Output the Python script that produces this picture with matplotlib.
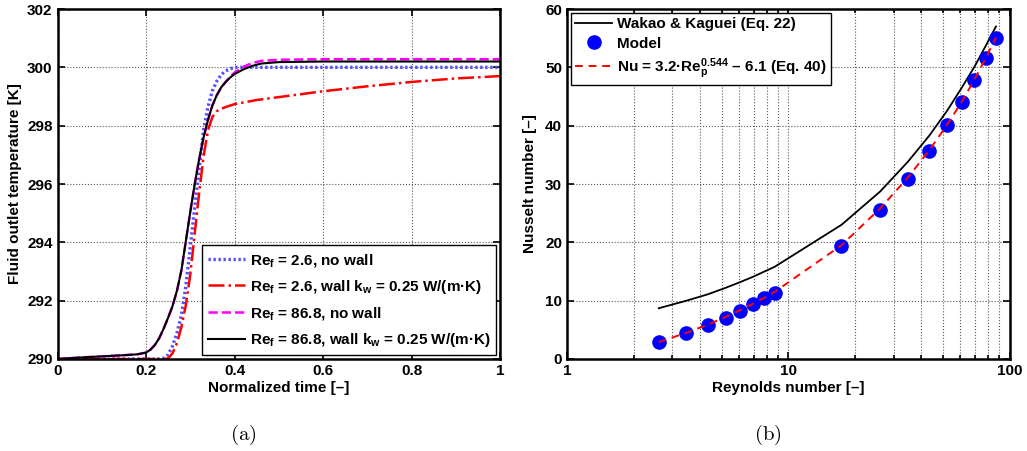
import numpy as np
import matplotlib.pyplot as plt
from matplotlib.ticker import FixedLocator, NullFormatter

FONT = 'Liberation Sans'
plt.rcParams['font.family'] = [FONT, 'DejaVu Sans']
plt.rcParams['font.weight'] = 'bold'
plt.rcParams['mathtext.fontset'] = 'custom'
plt.rcParams['mathtext.rm'] = FONT + ':bold'
plt.rcParams['mathtext.it'] = FONT + ':bold'
plt.rcParams['mathtext.bf'] = FONT + ':bold'

# (a) outlet temperature vs normalized time
t_blue = [0, 0.23, 0.24, 0.25, 0.26, 0.27, 0.28, 0.29, 0.30, 0.31, 0.32, 0.33,
          0.34, 0.35, 0.36, 0.37, 0.38, 0.39, 0.40, 1.0]
T_blue = [290.0, 290.0, 290.03, 290.15, 290.45, 290.9, 291.5, 292.5, 293.85,
          295.2, 296.5, 297.85, 298.65, 299.2, 299.53, 299.75, 299.88, 299.95,
          300.0, 300.0]

t_red = [0, 0.24, 0.25, 0.26, 0.27, 0.28, 0.29, 0.30, 0.31, 0.32, 0.33, 0.34,
         0.35, 0.36, 0.37, 0.38, 0.40, 0.45, 0.5, 0.6, 0.7, 0.8, 0.9, 1.0]
T_red = [290.0, 290.0, 290.02, 290.2, 290.55, 291.1, 291.85, 292.9, 294.3,
         295.7, 296.95, 297.85, 298.3, 298.5, 298.58, 298.64, 298.74, 298.88,
         298.98, 299.18, 299.35, 299.5, 299.62, 299.7]

t_mag = [0, 0.05, 0.1, 0.15, 0.18, 0.2, 0.21, 0.22, 0.23, 0.24, 0.25, 0.26,
         0.27, 0.28, 0.29, 0.30, 0.31, 0.32, 0.33, 0.34, 0.35, 0.36, 0.37, 0.38,
         0.39, 0.40, 0.42, 0.44, 0.46, 0.5, 0.6, 1.0]
T_mag = [290.0, 290.05, 290.09, 290.13, 290.16, 290.22, 290.32, 290.48, 290.72,
         291.05, 291.42, 291.82, 292.35, 293.05, 294.05, 295.05, 296.0, 296.85,
         297.6, 298.2, 298.7, 299.05, 299.32, 299.5, 299.68, 299.82, 300.02,
         300.15, 300.22, 300.26, 300.28, 300.28]

t_blk = [0, 0.05, 0.1, 0.15, 0.18, 0.2, 0.21, 0.22, 0.23, 0.24, 0.25, 0.26,
         0.27, 0.28, 0.29, 0.30, 0.31, 0.32, 0.33, 0.34, 0.35, 0.36, 0.37, 0.38,
         0.39, 0.40, 0.42, 0.44, 0.46, 0.5, 0.6, 1.0]
T_blk = [290.0, 290.05, 290.09, 290.13, 290.16, 290.22, 290.32, 290.48, 290.72,
         291.05, 291.42, 291.82, 292.35, 293.05, 294.05, 295.05, 296.0, 296.85,
         297.6, 298.2, 298.7, 299.05, 299.32, 299.5, 299.65, 299.77, 299.93,
         300.05, 300.13, 300.18, 300.2, 300.2]

# (b) Nusselt number vs Reynolds number
Re = [2.6, 3.47, 4.34, 5.21, 6.08, 6.94, 7.81, 8.68, 17.4, 26.0, 34.7, 43.4,
      52.1, 60.8, 69.4, 78.1, 86.8]
Nu_model = [2.9, 4.5, 5.9, 7.1, 8.3, 9.4, 10.5, 11.4, 19.4, 25.6, 30.9, 35.7,
            40.1, 44.1, 47.9, 51.6, 55.1]
Nu_fit = [2.9, 4.5, 5.9, 7.2, 8.4, 9.5, 10.5, 11.5, 19.5, 25.8, 31.1, 35.8,
          40.1, 44.1, 47.9, 51.6, 55.1]
Nu_wakao = [8.7, 10.0, 11.1, 12.2, 13.2, 14.1, 15.0, 15.8, 23.0, 28.7, 33.8,
            38.3, 42.5, 46.5, 50.1, 53.7, 57.0]

FS = 11


def style_axes(ax):
    # matlab look: ticks inside on every side, thick box, dotted grid
    ax.tick_params(direction='in', which='both', top=True, right=True,
                   labelsize=FS, width=1.2)
    ax.tick_params(which='major', length=5)
    ax.tick_params(which='minor', length=3)
    for s in ax.spines.values():
        s.set_linewidth(1.8)
    for lab in ax.get_xticklabels() + ax.get_yticklabels():
        lab.set_fontweight('bold')


fig = plt.figure(figsize=(10.27, 4.51), dpi=100)

ax1 = fig.add_axes([0.056, 0.204, 0.431, 0.776])
ax1.plot(t_blue, T_blue, color='#4f4fff', lw=2.4, dashes=(0.7, 0.8),
         label='Re$_\\mathrm{f}$ = 2.6, no wall')
ax1.plot(t_red, T_red, '-.', color='red', lw=1.8,
         label='Re$_\\mathrm{f}$ = 2.6, wall k$_\\mathrm{w}$ = 0.25 W/(m·K)')
ax1.plot(t_mag, T_mag, '--', color='magenta', lw=1.8,
         label='Re$_\\mathrm{f}$ = 86.8, no wall')
ax1.plot(t_blk, T_blk, '-', color='black', lw=1.5,
         label='Re$_\\mathrm{f}$ = 86.8, wall k$_\\mathrm{w}$ = 0.25 W/(m·K)')
ax1.set_xlim(0, 1)
ax1.set_ylim(290, 302)
ax1.set_xticks([0, 0.2, 0.4, 0.6, 0.8, 1])
ax1.set_xticklabels(['0', '0.2', '0.4', '0.6', '0.8', '1'])
ax1.set_yticks([290, 292, 294, 296, 298, 300, 302])
ax1.grid(True, linestyle=':', color='0.35', lw=0.8)
ax1.set_xlabel('Normalized time [–]', fontsize=FS, fontweight='bold', labelpad=2)
ax1.set_ylabel('Fluid outlet temperature [K]', fontsize=FS, fontweight='bold',
               labelpad=4)
leg1 = ax1.legend(loc='lower right', fontsize=FS, fancybox=False,
                  edgecolor='black', framealpha=1, handlelength=2.4,
                  handletextpad=0.3, borderaxespad=0.25, labelspacing=0.6,
                  borderpad=0.4)
leg1.get_frame().set_linewidth(1.0)
style_axes(ax1)

ax2 = fig.add_axes([0.552, 0.204, 0.431, 0.776])
ax2.plot(Re, Nu_wakao, '-', color='black', lw=1.3,
         label='Wakao & Kaguei (Eq. 22)', zorder=3)
ax2.plot(Re, Nu_model, 'o', color='blue', ms=9.5, mec='blue',
         label='Model', zorder=4)
ax2.plot(Re, Nu_fit, '--', color='red', lw=1.4, dashes=(4, 3),
         label='Nu = 3.2·Re$_\\mathrm{p}^\\mathrm{0.544}$ – 6.1 (Eq. 40)', zorder=5)
ax2.set_xscale('log')
ax2.set_xlim(1, 100)
ax2.set_ylim(0, 60)
ax2.xaxis.set_major_locator(FixedLocator([1, 10, 100]))
ax2.set_xticklabels(['1', '10', '100'])
ax2.xaxis.set_minor_locator(FixedLocator(
    [2, 3, 4, 5, 6, 7, 8, 9, 20, 30, 40, 50, 60, 70, 80, 90]))
ax2.xaxis.set_minor_formatter(NullFormatter())
ax2.set_yticks([0, 10, 20, 30, 40, 50, 60])
ax2.grid(True, which='both', linestyle=':', color='0.35', lw=0.8)
ax2.set_xlabel('Reynolds number [–]', fontsize=FS, fontweight='bold', labelpad=2)
ax2.set_ylabel('Nusselt number [–]', fontsize=FS, fontweight='bold', labelpad=6)
leg2 = ax2.legend(loc='upper left', fontsize=FS, fancybox=False,
                  edgecolor='black', framealpha=1, handlelength=2.4,
                  handletextpad=0.3, borderaxespad=0.25, labelspacing=0.35,
                  borderpad=0.3)
leg2.get_frame().set_linewidth(1.0)
style_axes(ax2)

# sub-figure captions
fig.text(0.237, 0.025, r'$\mathrm{(a)}$', math_fontfamily='cm', fontsize=15,
         ha='center')
fig.text(0.748, 0.025, r'$\mathrm{(b)}$', math_fontfamily='cm', fontsize=15,
         ha='center')

fig.savefig('out.png', dpi=100)
